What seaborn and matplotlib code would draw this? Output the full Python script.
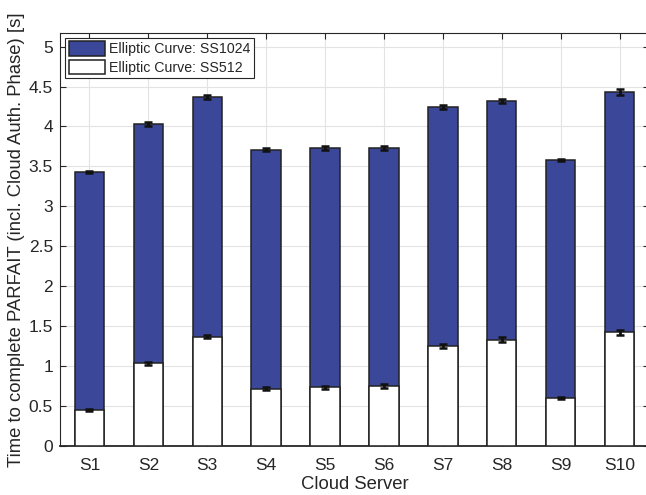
import matplotlib
matplotlib.use("Agg")
import matplotlib.pyplot as plt
import seaborn as sns
import pandas as pd
import numpy as np

servers = ["S1", "S2", "S3", "S4", "S5", "S6", "S7", "S8", "S9", "S10"]
total_ss1024 = [3.43, 4.03, 4.37, 3.71, 3.73, 3.73, 4.24, 4.32, 3.58, 4.43]
err_ss1024 = [0.01, 0.025, 0.025, 0.02, 0.02, 0.02, 0.025, 0.03, 0.01, 0.04]
ss512 = [0.453, 1.036, 1.367, 0.717, 0.734, 0.75, 1.258, 1.329, 0.604, 1.421]
err_ss512 = [0.01, 0.02, 0.02, 0.02, 0.015, 0.02, 0.025, 0.03, 0.01, 0.035]

sns.set_theme(style="white")
plt.rcParams['font.family'] = ['Liberation Sans', 'DejaVu Sans']

df = pd.DataFrame({"server": servers, "total": total_ss1024, "ss512": ss512})

fig = plt.figure(figsize=(6.46, 4.95), dpi=100)
ax = fig.add_axes([60/646, 1 - 446/495, 589/646, (446-33)/495])

blue = "#3B4899"
sns.barplot(data=df, x="server", y="total", color=blue, width=0.5,
            edgecolor="#222222", linewidth=1.1, saturation=1, ax=ax,
            label="Elliptic Curve: SS1024", zorder=2)
sns.barplot(data=df, x="server", y="ss512", color="white", width=0.5,
            edgecolor="#222222", linewidth=1.1, saturation=1, ax=ax,
            label="Elliptic Curve: SS512", zorder=3)

pos = np.arange(len(servers))
ax.errorbar(pos, total_ss1024, yerr=err_ss1024, fmt="none", ecolor="#111111",
            elinewidth=2, capsize=3, capthick=1.8, zorder=4)
ax.errorbar(pos, ss512, yerr=err_ss512, fmt="none", ecolor="#111111",
            elinewidth=2, capsize=3, capthick=1.8, zorder=4)

ax.set_xlim(-0.5, 9.5)
ax.set_ylim(0, 5.17)
ax.set_yticks(np.arange(0, 5.01, 0.5))
ax.set_yticklabels(["0", "0.5", "1", "1.5", "2", "2.5", "3", "3.5", "4", "4.5", "5"])
ax.grid(True, color="#e3e3e3", linewidth=0.8, zorder=0)
ax.set_axisbelow(True)
for s in ax.spines.values():
    s.set_color("#262626")
    s.set_linewidth(0.8)
ax.spines["bottom"].set_linewidth(1.3)
ax.tick_params(direction="in", top=True, right=True, length=4, width=0.8,
               labelsize=12.5, colors="#262626", bottom=True, left=True)
ax.tick_params(axis="x", pad=9)
ax.tick_params(axis="y", pad=5)
ax.set_xlabel("Cloud Server", fontsize=13.3, color="#262626", labelpad=2)
ax.set_ylabel("Time to complete PARFAIT (incl. Cloud Auth. Phase) [s]",
              fontsize=13.3, color="#262626", labelpad=3)

leg = ax.legend(loc="upper left", fontsize=10.2, frameon=True, fancybox=False,
                edgecolor="#262626", framealpha=1, borderaxespad=0.35,
                handlelength=2.6, handleheight=1.15, borderpad=0.25,
                labelspacing=0.25, handletextpad=0.25)
leg.get_frame().set_linewidth(0.8)

fig.savefig("out.png", dpi=100)
